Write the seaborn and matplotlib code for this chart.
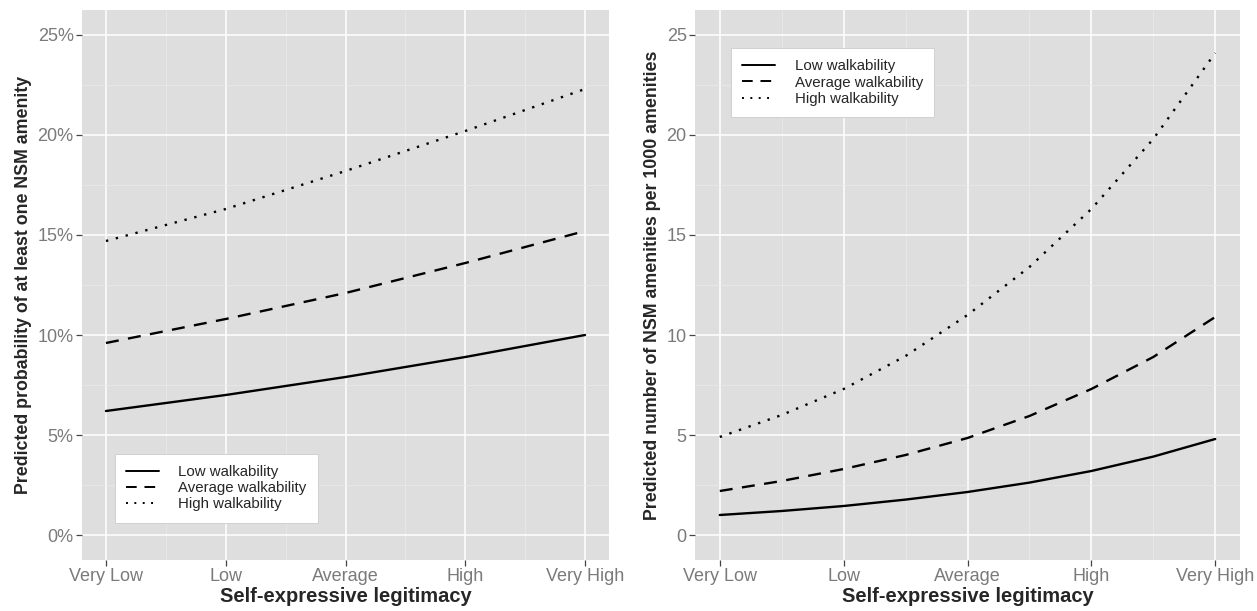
import pandas as pd
import numpy as np
import matplotlib
matplotlib.use('Agg')
import matplotlib.pyplot as plt
import seaborn as sns
from matplotlib.ticker import MultipleLocator, FuncFormatter

# Values (x = 1..5 in half steps)
x_pos = [1, 1.5, 2, 2.5, 3, 3.5, 4, 4.5, 5]
tick_labels = ['Very Low', 'Low', 'Average', 'High', 'Very High']
groups = ['Low walkability', 'Average walkability', 'High walkability']

# left panel: predicted probability (%)
prob_low = [6.2, 6.6, 7.0, 7.45, 7.9, 8.4, 8.9, 9.45, 10.0]
prob_avg = [9.6, 10.2, 10.8, 11.45, 12.1, 12.85, 13.6, 14.4, 15.2]
prob_high = [14.7, 15.5, 16.3, 17.25, 18.2, 19.2, 20.2, 21.25, 22.3]

# right panel: predicted number per 1000 amenities
count_low = [1.0, 1.2, 1.45, 1.77, 2.15, 2.62, 3.2, 3.92, 4.8]
count_avg = [2.2, 2.7, 3.3, 4.0, 4.85, 5.95, 7.3, 8.9, 10.9]
count_high = [4.9, 6.0, 7.3, 8.95, 11.0, 13.4, 16.3, 19.8, 24.1]


def make_df(low, avg, high):
    rows = []
    for g, vals in zip(groups, [low, avg, high]):
        for xv, yv in zip(x_pos, vals):
            rows.append({'x': xv, 'y': yv, 'group': g})
    return pd.DataFrame(rows)


df_prob = make_df(prob_low, prob_avg, prob_high)
df_count = make_df(count_low, count_avg, count_high)

sns.set_style('darkgrid', {'axes.facecolor': '#DEDEDE', 'grid.color': 'white'})
plt.rcParams['font.family'] = ['Liberation Sans', 'DejaVu Sans']

fig = plt.figure(figsize=(12.57, 6.11), dpi=100)
ax1 = fig.add_axes([82 / 1257, 51 / 611, 527 / 1257, 550 / 611])
ax2 = fig.add_axes([695 / 1257, 51 / 611, 545 / 1257, 550 / 611])

dash_map = {'Low walkability': '', 'Average walkability': (5.5, 4),
            'High walkability': (1, 3.3)}

for ax, df, ylab, legloc in [
        (ax1, df_prob, 'Predicted probability of at least one NSM amenity',
         (0.062, 0.068)),
        (ax2, df_count, 'Predicted number of NSM amenities per 1000 amenities',
         (0.066, 0.805))]:
    sns.lineplot(data=df, x='x', y='y', style='group', style_order=groups,
                 dashes=dash_map, color='black', linewidth=1.7, ax=ax)
    ax.set_xlim(0.8, 5.2)
    ax.set_ylim(-1.25, 26.25)
    ax.set_xticks([1, 2, 3, 4, 5])
    ax.set_xticklabels(tick_labels)
    ax.xaxis.set_minor_locator(MultipleLocator(0.5))
    ax.yaxis.set_major_locator(MultipleLocator(5))
    ax.yaxis.set_minor_locator(MultipleLocator(2.5))
    ax.grid(which='major', color='white', linewidth=1.1)
    ax.grid(which='minor', color='#EAEAEA', linewidth=0.5)
    ax.tick_params(axis='both', which='major', length=4, width=0.9,
                   color='#444444', labelcolor='#7A7A7A', labelsize=13,
                   bottom=True, left=True, pad=2)
    ax.tick_params(which='minor', length=0)
    for s in ax.spines.values():
        s.set_visible(False)
    ax.set_xlabel('Self-expressive legitimacy', fontsize=14.5,
                  fontweight='bold', labelpad=1)
    ax.set_ylabel(ylab, fontsize=12.8, fontweight='bold', labelpad=4)
    leg = ax.legend(title=None, loc='lower left', bbox_to_anchor=legloc,
                    fontsize=10.8, frameon=True, fancybox=False,
                    framealpha=1, handlelength=2.2, borderpad=0.75,
                    labelspacing=0.15, handletextpad=1.3,
                    borderaxespad=0)
    leg.get_frame().set_facecolor('white')
    leg.get_frame().set_edgecolor('#CCCCCC')
    leg.get_frame().set_linewidth(0.6)
    for line in leg.get_lines():
        line.set_linewidth(1.4)

ax1.yaxis.set_major_formatter(FuncFormatter(lambda v, p: f'{v:.0f}%'))

fig.savefig('out.png', dpi=100)
